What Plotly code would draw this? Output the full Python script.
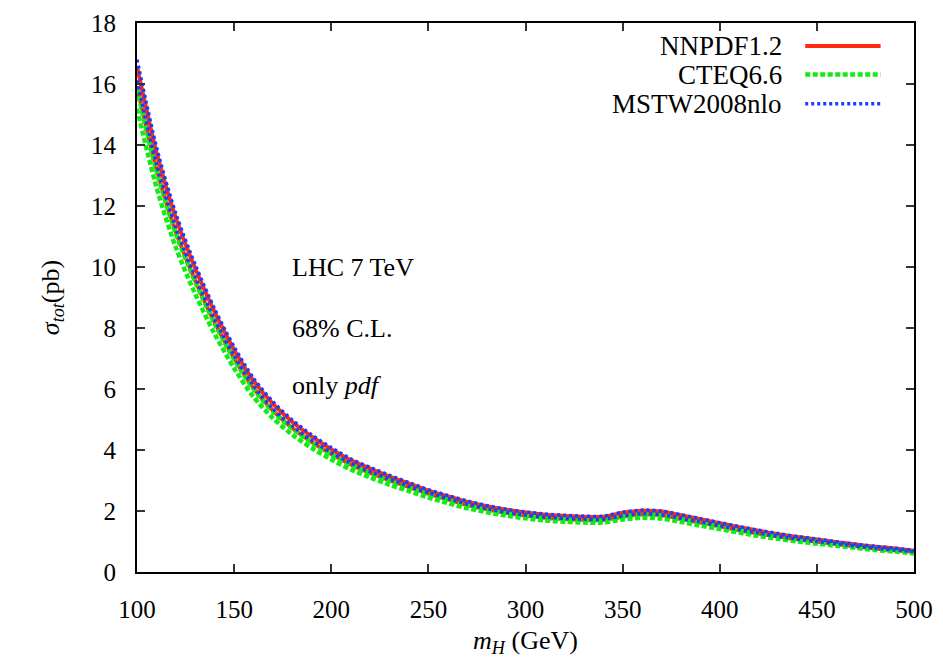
import plotly.graph_objects as go

# Higgs mass grid (GeV)
m_higgs = [100, 110, 120, 130, 140, 150, 160, 170, 180, 190, 200, 210, 220, 230, 240,
           250, 260, 270, 280, 290, 300, 310, 320, 330, 340, 350, 360, 370, 380, 390,
           400, 410, 420, 430, 440, 450, 460, 470, 480, 490, 500]

# 68% C.L. pdf-uncertainty bands of sigma_tot (pb): upper and lower edges
nnpdf_up = [16.58, 13.77, 11.61, 9.95, 8.52, 7.29, 6.27, 5.51, 4.92, 4.44, 4.03, 3.67, 3.39, 3.13, 2.90,
            2.67, 2.48, 2.30, 2.16, 2.04, 1.95, 1.88, 1.84, 1.81, 1.81, 1.94, 2.01, 1.98, 1.86, 1.73,
            1.60, 1.47, 1.35, 1.24, 1.15, 1.07, 0.98, 0.90, 0.83, 0.77, 0.70]
nnpdf_lo = [15.93, 13.23, 11.15, 9.56, 8.18, 7.01, 6.03, 5.29, 4.72, 4.26, 3.87, 3.53, 3.25, 3.01, 2.78,
            2.57, 2.38, 2.20, 2.06, 1.94, 1.85, 1.78, 1.74, 1.71, 1.71, 1.82, 1.89, 1.86, 1.74, 1.62,
            1.50, 1.37, 1.26, 1.16, 1.07, 0.99, 0.92, 0.84, 0.77, 0.71, 0.66]
cteq_up = [15.84, 13.16, 11.10, 9.51, 8.14, 6.97, 6.00, 5.26, 4.70, 4.24, 3.85, 3.51, 3.23, 2.99, 2.76,
           2.55, 2.36, 2.18, 2.04, 1.93, 1.84, 1.77, 1.73, 1.70, 1.70, 1.81, 1.88, 1.85, 1.73, 1.61,
           1.49, 1.36, 1.25, 1.15, 1.07, 0.99, 0.91, 0.84, 0.77, 0.71, 0.65]
cteq_lo = [15.19, 12.62, 10.64, 9.11, 7.80, 6.68, 5.74, 5.04, 4.50, 4.06, 3.69, 3.36, 3.10, 2.86, 2.65,
           2.44, 2.26, 2.09, 1.96, 1.85, 1.76, 1.69, 1.65, 1.62, 1.62, 1.72, 1.78, 1.75, 1.64, 1.52,
           1.41, 1.29, 1.18, 1.09, 1.00, 0.93, 0.86, 0.79, 0.72, 0.67, 0.61]
mstw_up = [16.80, 13.94, 11.75, 10.07, 8.62, 7.38, 6.35, 5.58, 4.98, 4.49, 4.08, 3.71, 3.43, 3.17, 2.93,
           2.70, 2.51, 2.33, 2.18, 2.06, 1.97, 1.90, 1.86, 1.83, 1.83, 1.96, 2.03, 2.00, 1.88, 1.75,
           1.62, 1.49, 1.37, 1.26, 1.16, 1.08, 0.99, 0.91, 0.84, 0.78, 0.71]
mstw_lo = [16.12, 13.39, 11.28, 9.67, 8.28, 7.09, 6.10, 5.35, 4.78, 4.31, 3.92, 3.57, 3.29, 3.05, 2.81,
           2.60, 2.41, 2.23, 2.08, 1.96, 1.87, 1.80, 1.76, 1.73, 1.73, 1.84, 1.91, 1.88, 1.76, 1.64,
           1.52, 1.39, 1.28, 1.17, 1.08, 1.00, 0.93, 0.85, 0.78, 0.72, 0.67]

x_ticks = [100, 150, 200, 250, 300, 350, 400, 450, 500]
y_ticks = [0, 2, 4, 6, 8, 10, 12, 14, 16, 18]

FONT = "Liberation Serif"
RED, GREEN, BLUE = "#ff2a10", "#12ec12", "#1a3cff"

sets = [
    ("NNPDF1.2", nnpdf_up, nnpdf_lo, dict(color=RED, width=4, dash="solid")),
    ("CTEQ6.6", cteq_up, cteq_lo, dict(color=GREEN, width=4.5, dash="5px,2.5px")),
    ("MSTW2008nlo", mstw_up, mstw_lo, dict(color=BLUE, width=3.5, dash="3px,3px")),
]

fig = go.Figure()
for name, up, lo, style in sets:
    for band in (up, lo):
        fig.add_trace(go.Scatter(
            x=m_higgs, y=band, mode="lines", name=name, showlegend=False,
            line=dict(shape="spline", smoothing=0.8, **style),
        ))

# key in the upper-right corner: text right-aligned, line sample to its right
key_y = [0.958, 0.906, 0.853]
for (name, _, _, style), ky in zip(sets, key_y):
    fig.add_annotation(x=0.833, y=ky, xref="paper", yref="paper", text=name,
                       showarrow=False, xanchor="right", yanchor="middle",
                       font=dict(family=FONT, size=27, color="black"))
    fig.add_shape(type="line", xref="paper", yref="paper",
                  x0=0.860, x1=0.957, y0=ky, y1=ky, line=style)

# process labels
labels = ["LHC 7 TeV", "68% C.L.", "only <i>pdf</i>"]
label_y = [10.0, 8.0, 6.1]
for txt, ly in zip(labels, label_y):
    fig.add_annotation(x=179, y=ly, text=txt, showarrow=False, xanchor="left",
                       yanchor="middle", font=dict(family=FONT, size=26, color="black"))

axis_common = dict(
    showline=True, linecolor="black", linewidth=2, mirror="ticks",
    ticks="inside", ticklen=8, tickwidth=1.5, tickcolor="#333",
    showgrid=False, zeroline=False, automargin=False,
    tickfont=dict(family=FONT, size=25, color="black"),
)

fig.update_xaxes(range=[100, 500], tickvals=x_ticks, ticklabelstandoff=14,
                 title=dict(text="<i>m</i><sub><i>H</i></sub> (GeV)", standoff=16,
                            font=dict(family=FONT, size=26, color="black")),
                 **axis_common)
fig.update_yaxes(range=[0, 18], tickvals=y_ticks, ticklabelstandoff=14,
                 title=dict(text="<i>σ</i><sub><i>tot</i></sub>(pb)", standoff=24,
                            font=dict(family=FONT, size=26, color="black")),
                 **axis_common)

fig.update_layout(
    width=943, height=658,
    margin=dict(l=137, r=29, t=23, b=86),
    paper_bgcolor="white", plot_bgcolor="white",
    showlegend=False,
)

fig.write_html("out.html")
